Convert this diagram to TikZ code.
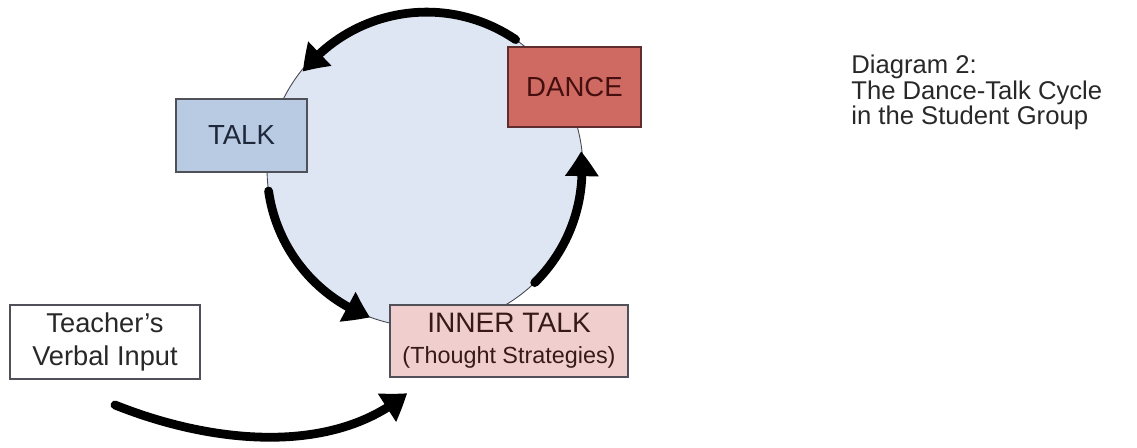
\documentclass[tikz,border=0pt]{standalone}
\usepackage{fontspec}
\setmainfont{Liberation Sans}
\usetikzlibrary{arrows.meta,bending}
\definecolor{cyclefill}{RGB}{221,230,242}
\definecolor{cycleline}{RGB}{70,70,80}
\definecolor{talkfill}{RGB}{184,203,227}
\definecolor{talktext}{RGB}{30,40,58}
\definecolor{dancefill}{RGB}{206,106,98}
\definecolor{danceline}{RGB}{95,45,45}
\definecolor{dancetext}{RGB}{70,15,15}
\definecolor{innerfill}{RGB}{241,206,206}
\definecolor{innertext}{RGB}{55,25,25}
\definecolor{boxline}{RGB}{80,80,88}
\definecolor{titletext}{RGB}{40,40,40}
\begin{document}
\begin{tikzpicture}[x=0.02cm,y=0.02cm,
  box/.style={draw=boxline, line width=0.9pt, inner sep=0pt, align=center},
  flow/.style={line width=5pt, line cap=round, -{Triangle[length=0.5cm,width=0.64cm,bend]}},
  bigfont/.style={font=\fontsize{15.7}{18}\selectfont}
]
\useasboundingbox (0,0) rectangle (1137,447);
% cycle background
\node[circle, draw=cycleline, line width=0.5pt, fill=cyclefill, minimum size=6.32cm, inner sep=0pt, outer sep=0pt] (cycle) at (425,278) {};
% cycle arrows
\draw[flow] (cycle.55.7) arc[start angle=55.7, end angle=141.5, radius=158];
\draw[flow] (cycle.188) arc[start angle=188, end angle=249.7, radius=158];
\draw[flow] (cycle.314.5) arc[start angle=314.5, end angle=366.8, radius=158];
% boxes
\node[box, fill=talkfill, text=talktext, bigfont, minimum width=2.62cm, minimum height=1.46cm] (talk) at (241.5,311.5) {TALK};
\node[box, draw=danceline, fill=dancefill, text=dancetext, bigfont, minimum width=2.66cm, minimum height=1.6cm] (dance) at (574.5,360) {DANCE};
\node[box, fill=innerfill, text=innertext, minimum width=4.76cm, minimum height=1.44cm,
  font=\fontsize{16}{17.6}\selectfont] (inner) at (509,106)
  {INNER TALK\\{\fontsize{13.3}{17.6}\selectfont (Thought Strategies)}};
\node[box, fill=white, text=titletext, minimum width=3.8cm, minimum height=1.48cm,
  font=\fontsize{15.5}{18.8}\selectfont] (teacher) at (105,105)
  {Teacher’s\\Verbal Input};
% teacher input arrow
\coordinate (vin) at (115,42);
\coordinate (vout) at (407,54);
\draw[flow] (vin) .. controls (215,2) and (335,-8) .. (vout);
% title
\node[anchor=north west, inner sep=0pt, align=left, text=titletext, font=\fontsize{14.6}{14.3}\selectfont] (title) at (851,392)
  {Diagram 2:\\The Dance-Talk Cycle\\in the Student Group};
\end{tikzpicture}
\end{document}
